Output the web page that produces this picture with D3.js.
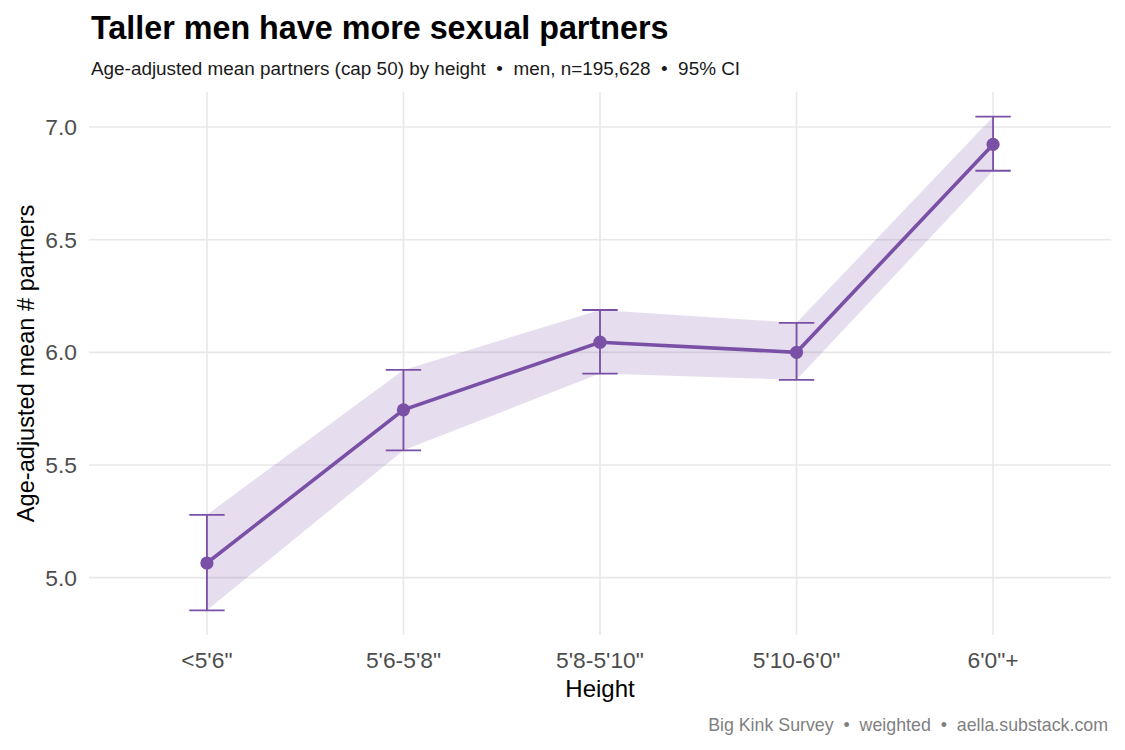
<!DOCTYPE html>
<html lang="en">
<head>
    <meta charset="UTF-8">
    <title>Taller men have more sexual partners</title>
    <style>
        body {
            margin: 0;
            padding: 0;
            background-color: #ffffff;
            font-family: "Liberation Sans", Arial, sans-serif;
        }
        .grid line {
            stroke: #e8e8e8;
            stroke-width: 1.6px;
        }
        text {
            white-space: pre;
        }
    </style>
</head>
<body>
    <div id="chart"></div>

    <script src="https://d3js.org/d3.v7.min.js"></script>
    <script>
        // Values
        const heights = ["<5'6\"", "5'6-5'8\"", "5'8-5'10\"", "5'10-6'0\"", "6'0\"+"];
        const means = [5.065, 5.745, 6.045, 6.0, 6.923];
        const ciLow = [4.855, 5.565, 5.906, 5.878, 6.806];
        const ciHigh = [5.279, 5.922, 6.188, 6.131, 7.046];
        const yTicks = [5.0, 5.5, 6.0, 6.5, 7.0];

        const purple = "#7a50a6";
        const width = 1125, height = 750;
        const panel = { left: 89, right: 1111, top: 92, bottom: 635 };

        const data = heights.map((h, i) => ({ h, mean: means[i], lo: ciLow[i], hi: ciHigh[i] }));

        const svg = d3.select("#chart")
            .append("svg")
            .attr("width", width)
            .attr("height", height);

        const x = d3.scalePoint()
            .domain(heights)
            .range([panel.left, panel.right])
            .padding(0.6);

        // ggplot-style 5% expansion of the data range
        const yMin = d3.min(ciLow), yMax = d3.max(ciHigh);
        const pad = (yMax - yMin) * 0.05;
        const y = d3.scaleLinear()
            .domain([yMin - pad, yMax + pad])
            .range([panel.bottom, panel.top]);

        // grid
        const grid = svg.append("g").attr("class", "grid");
        grid.selectAll(".hy")
            .data(yTicks)
            .enter()
            .append("line")
            .attr("x1", panel.left)
            .attr("x2", panel.right)
            .attr("y1", d => y(d))
            .attr("y2", d => y(d));
        grid.selectAll(".vx")
            .data(heights)
            .enter()
            .append("line")
            .attr("x1", d => x(d))
            .attr("x2", d => x(d))
            .attr("y1", panel.top)
            .attr("y2", panel.bottom);

        // ribbon
        const area = d3.area()
            .x(d => x(d.h))
            .y0(d => y(d.lo))
            .y1(d => y(d.hi));
        svg.append("path")
            .datum(data)
            .attr("d", area)
            .attr("fill", purple)
            .attr("fill-opacity", 0.19);

        // line
        const line = d3.line()
            .x(d => x(d.h))
            .y(d => y(d.mean));
        svg.append("path")
            .datum(data)
            .attr("d", line)
            .attr("fill", "none")
            .attr("stroke", purple)
            .attr("stroke-width", 3.6);

        // error bars
        const capHalf = x.step() * 0.09;
        const eb = svg.append("g")
            .attr("stroke", purple)
            .attr("stroke-width", 1.8)
            .attr("fill", "none");
        const bars = eb.selectAll("g")
            .data(data)
            .enter()
            .append("g");
        bars.append("line")
            .attr("x1", d => x(d.h))
            .attr("x2", d => x(d.h))
            .attr("y1", d => y(d.lo))
            .attr("y2", d => y(d.hi));
        bars.append("line")
            .attr("x1", d => x(d.h) - capHalf)
            .attr("x2", d => x(d.h) + capHalf)
            .attr("y1", d => y(d.hi))
            .attr("y2", d => y(d.hi));
        bars.append("line")
            .attr("x1", d => x(d.h) - capHalf)
            .attr("x2", d => x(d.h) + capHalf)
            .attr("y1", d => y(d.lo))
            .attr("y2", d => y(d.lo));

        // points
        svg.append("g")
            .selectAll("circle")
            .data(data)
            .enter()
            .append("circle")
            .attr("cx", d => x(d.h))
            .attr("cy", d => y(d.mean))
            .attr("r", 6.6)
            .attr("fill", purple);

        // axis labels
        svg.append("g")
            .selectAll("text")
            .data(yTicks)
            .enter()
            .append("text")
            .attr("x", 77)
            .attr("y", d => y(d) + 8)
            .attr("text-anchor", "end")
            .attr("font-size", 22.8)
            .attr("fill", "#4d4d4d")
            .text(d => d3.format(".1f")(d));

        svg.append("g")
            .selectAll("text")
            .data(heights)
            .enter()
            .append("text")
            .attr("x", d => x(d))
            .attr("y", 668)
            .attr("text-anchor", "middle")
            .attr("font-size", 22.8)
            .attr("fill", "#4d4d4d")
            .text(d => d);

        svg.append("text")
            .attr("x", (panel.left + panel.right) / 2)
            .attr("y", 697)
            .attr("text-anchor", "middle")
            .attr("font-size", 24)
            .attr("fill", "#000")
            .text("Height");

        svg.append("text")
            .attr("transform", `translate(34,${(panel.top + panel.bottom) / 2}) rotate(-90)`)
            .attr("text-anchor", "middle")
            .attr("font-size", 23.6)
            .attr("fill", "#000")
            .text("Age-adjusted mean # partners");

        // titles
        svg.append("text")
            .attr("x", 91)
            .attr("y", 39)
            .attr("font-size", 32.3)
            .attr("font-weight", "bold")
            .attr("fill", "#000")
            .text("Taller men have more sexual partners");

        svg.append("text")
            .attr("x", 91)
            .attr("y", 75)
            .attr("font-size", 18.9)
            .attr("fill", "#1a1a1a")
            .text("Age-adjusted mean partners (cap 50) by height  \u2022  men, n=195,628  \u2022  95% CI");

        svg.append("text")
            .attr("x", 1108)
            .attr("y", 731)
            .attr("text-anchor", "end")
            .attr("font-size", 17.8)
            .attr("fill", "#7f7f7f")
            .text("Big Kink Survey  \u2022  weighted  \u2022  aella.substack.com");
    </script>
</body>
</html>
